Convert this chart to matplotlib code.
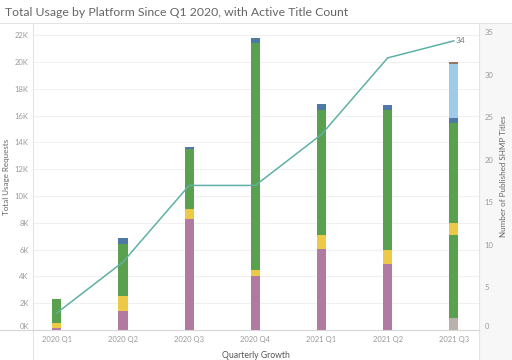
import numpy as np
import matplotlib
matplotlib.use("Agg")
import matplotlib.pyplot as plt
from matplotlib.patches import Rectangle
from matplotlib.lines import Line2D

plt.rcParams['font.family'] = ['Lato', 'DejaVu Sans']

# data
quarters = ['2020 Q1', '2020 Q2', '2020 Q3', '2020 Q4', '2021 Q1', '2021 Q2', '2021 Q3']
# stacked usage segments, bottom to top
other_gray = [0, 0, 0, 0, 0, 0, 920]
green_low = [0, 0, 0, 0, 0, 0, 6170]
purple = [130, 1440, 8280, 4050, 6020, 4930, 0]
yellow = [415, 1100, 750, 430, 1070, 1045, 920]
green = [1790, 3900, 4480, 16960, 9330, 10400, 7415]
blue = [0, 430, 170, 370, 420, 420, 420]
light_blue = [0, 0, 0, 0, 0, 0, 3985]
brown = [0, 0, 0, 0, 0, 0, 150]
# active title count (right axis)
titles = [2, 8, 17, 17, 23, 32, 34]

segments = [
    (other_gray, '#bab0ac'),
    (green_low, '#59a14f'),
    (purple, '#b07aa1'),
    (yellow, '#edc948'),
    (green, '#59a14f'),
    (blue, '#4e79a7'),
    (light_blue, '#a0cbe8'),
    (brown, '#9c755f'),
]

W, H = 512, 360
fig = plt.figure(figsize=(W / 100, H / 100), dpi=100)
ax = fig.add_axes([33 / W, 1 - 330 / H, (479 - 33) / W, (330 - 23) / H])
ax2 = ax.twinx()

# light panel behind right axis
fig.patches.append(Rectangle((479 / W, 0), 1 - 479 / W, 1 - 23 / H, transform=fig.transFigure,
                             facecolor='#f7f7f7', edgecolor='none', zorder=-5))
for xf in (33 / W, 479 / W):
    fig.add_artist(Line2D([xf, xf], [0, 1 - 23 / H], color='#e3e3e3', lw=0.8))
fig.add_artist(Line2D([0, 1], [1 - 23 / H, 1 - 23 / H], color='#e3e3e3', lw=0.8))
fig.add_artist(Line2D([0, 479 / W], [1 - 330 / H, 1 - 330 / H], color='#d6d6d6', lw=0.8))

x = np.arange(len(quarters))
bottom = np.zeros(len(quarters))
for vals, col in segments:
    v = np.array(vals, dtype=float)
    ax.bar(x, v, width=0.14, bottom=bottom, color=col, edgecolor='none', zorder=3)
    bottom += v

ax.set_xlim(-0.36, 6.38)
ax.set_ylim(0, 22900)
ax.set_yticks(np.arange(0, 22001, 2000))
ax.set_yticklabels([f'{int(t / 1000)}K' for t in np.arange(0, 22001, 2000)])
ax.get_yticklabels()[0].set_va('bottom')
ax.yaxis.grid(True, color='#f0f0f0', lw=0.8, zorder=0)
ax.set_axisbelow(True)
ax.set_xticks(x)
ax.set_xticklabels(quarters)
ax.tick_params(axis='both', length=0, labelsize=5.5, labelcolor='#9a9a9a')
ax.tick_params(axis='y', pad=3)
ax.tick_params(axis='x', pad=4)
for s in ax.spines.values():
    s.set_visible(False)
ax.set_ylabel('Total Usage Requests', fontsize=5.8, color='#666666')
ax.yaxis.set_label_coords(-0.052, 0.5)
ax.set_xlabel('Quarterly Growth', fontsize=6.2, color='#555555', labelpad=6)

ax2.plot(x, titles, color='#5fb0a4', lw=1.1, zorder=4)
ax2.set_ylim(0, 36.1)
ax2.set_yticks(np.arange(0, 36, 5))
ax2.get_yticklabels()[0].set_va('bottom')
ax2.tick_params(axis='y', length=0, labelsize=5.5, labelcolor='#9a9a9a', pad=4)
for s in ax2.spines.values():
    s.set_visible(False)
ax2.set_ylabel('Number of Published SHMP Titles', fontsize=5.8, color='#666666')
ax2.yaxis.set_label_coords(1.047, 0.5)
ax2.annotate(str(titles[-1]), (x[-1], titles[-1]), xytext=(1, 0), textcoords='offset points',
             fontsize=6, color='#777777', va='center', ha='left')

fig.text(5 / W, 1 - 12 / H, 'Total Usage by Platform Since Q1 2020, with Active Title Count',
         fontsize=8.8, color='#666666', va='center', ha='left')

fig.savefig('out.png', dpi=100)
